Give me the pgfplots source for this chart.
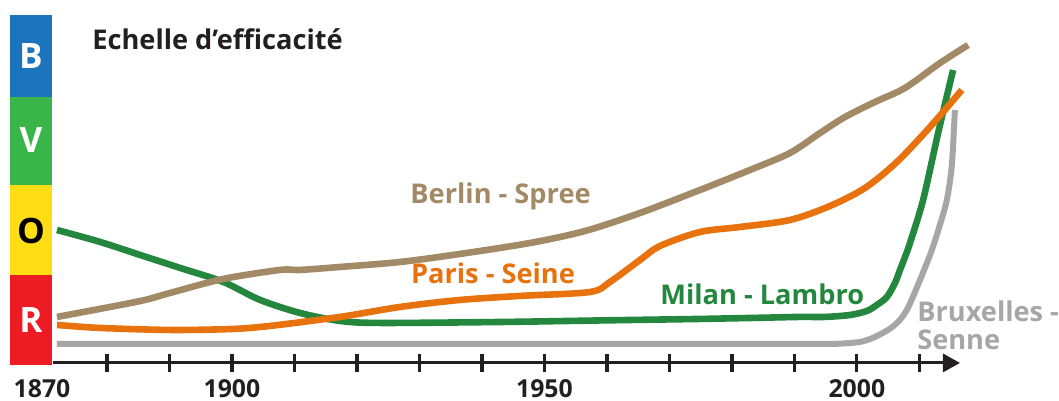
\documentclass[border=0pt]{standalone}
\usepackage{fontspec}
\setmainfont{Open Sans}
\usepackage{pgfplots}
\pgfplotsset{compat=1.18}
\usetikzlibrary{arrows.meta}
\definecolor{cBerlin}{HTML}{A38A66}
\definecolor{cParis}{HTML}{E8730E}
\definecolor{cMilan}{HTML}{23873D}
\definecolor{cBrux}{HTML}{A6A6A6}
\definecolor{bandB}{HTML}{1C75BC}
\definecolor{bandV}{HTML}{39B54A}
\definecolor{bandO}{HTML}{FFDD15}
\definecolor{bandR}{HTML}{ED1C24}
\definecolor{txt}{HTML}{231F20}
\begin{document}
\begin{tikzpicture}
\begin{axis}[width=529.5pt,height=200.5pt,scale only axis,hide axis,
  xmin=1862.88,xmax=2032.32,ymin=-0.4114,ymax=4.1714,clip=false,
  every axis plot/.append style={smooth,tension=0.5,line cap=butt,line join=round}]
\path (rel axis cs:0,0) rectangle (rel axis cs:1,1);
% efficiency scale bands
\fill[bandB] (axis cs:1864.48,3.06) rectangle (axis cs:1871.2,4.0);
\fill[bandV] (axis cs:1864.48,2.057) rectangle (axis cs:1871.2,3.06);
\fill[bandO] (axis cs:1864.48,1.029) rectangle (axis cs:1871.2,2.057);
\fill[bandR] (axis cs:1864.48,0) rectangle (axis cs:1871.2,1.029);
\node[white,font=\bfseries\fontsize{17.5}{18}\selectfont] at (axis cs:1867.84,3.53) {B};
\node[white,font=\bfseries\fontsize{17.5}{18}\selectfont] at (axis cs:1867.84,2.57) {V};
\node[black,font=\bfseries\fontsize{17.5}{18}\selectfont] at (axis cs:1867.84,1.53) {O};
\node[white,font=\bfseries\fontsize{17.5}{18}\selectfont] at (axis cs:1867.84,0.51) {R};
\node[txt,anchor=base west,inner sep=0pt,font=\bfseries\fontsize{13.6}{14}\selectfont] at (axis cs:1877.6,3.611) {Echelle d’efficacité};
% time axis
\draw[txt,line width=1.5pt,-{Triangle[length=8.5pt,width=9pt]}] (axis cs:1871.4,0.023) -- (axis cs:2016.5,0.023);
\pgfplotsinvokeforeach{1880,1890,...,2010}{\draw[txt,line width=1.6pt] (axis cs:#1,-0.08) -- (axis cs:#1,0.126);}
\node[txt,anchor=base,inner sep=0pt,font=\bfseries\fontsize{12.4}{13}\selectfont] at (axis cs:1869.6,-0.377) {1870};
\node[txt,anchor=base,inner sep=0pt,font=\bfseries\fontsize{12.4}{13}\selectfont] at (axis cs:1900,-0.377) {1900};
\node[txt,anchor=base,inner sep=0pt,font=\bfseries\fontsize{12.4}{13}\selectfont] at (axis cs:1950,-0.377) {1950};
\node[txt,anchor=base,inner sep=0pt,font=\bfseries\fontsize{12.4}{13}\selectfont] at (axis cs:2000,-0.377) {2000};
% Bruxelles - Senne
\addplot[cBrux,line width=3pt] coordinates {
(1872.0,0.24) (1910,0.24) (1950,0.24) (1980,0.24) (1990,0.24) (1994.5,0.24) (1997.28,0.243) (2000.48,0.263)
(2002.4,0.305) (2004.16,0.366) (2005.6,0.43) (2006.88,0.514) (2008.0,0.63)
(2008.96,0.777) (2010.56,1.051) (2012.0,1.314) (2013.28,1.6) (2014.4,1.886) (2015.2,2.286) (2015.68,2.914)};
% Milan - Lambro
\addplot[cMilan,line width=3.3pt] coordinates {
(1872.0,1.543) (1878.9,1.406) (1885.3,1.257) (1891.7,1.109) (1898.6,0.949) (1904.5,0.743)
(1910.9,0.594) (1917.3,0.503) (1923.7,0.48) (1942.9,0.491) (1960,0.51) (1974.9,0.526) (1985,0.54) (1990.9,0.549)
(1994.9,0.549) (1998.9,0.571) (2001.6,0.617) (2003.2,0.686) (2004.8,0.777) (2006.1,0.937) (2006.9,1.086)
(2007.7,1.234) (2008.5,1.394) (2010.6,1.886) (2013.0,2.651) (2015.4,3.371)};
% Paris - Seine
\addplot[cParis,line width=3.3pt] coordinates {
(1872.0,0.457) (1878.9,0.423) (1890.1,0.4) (1900.0,0.411) (1906.1,0.446) (1917.3,0.549)
(1926.9,0.663) (1936.5,0.743) (1946.1,0.789) (1957.3,0.834) (1960.5,0.949) (1965.3,1.2)
(1968.5,1.36) (1974.9,1.52) (1981.3,1.577) (1989.3,1.657) (1995.7,1.817) (2001.3,2.023)
(2006.4,2.32) (2011.7,2.72) (2016.8,3.143)};
% Berlin - Spree
\addplot[cBerlin,line width=3.3pt] coordinates {
(1872.0,0.549) (1880.5,0.663) (1886.1,0.743) (1890.1,0.823) (1898.6,0.983) (1907.7,1.086)
(1910.9,1.086) (1917.3,1.12) (1926.9,1.177) (1936.5,1.269) (1947.7,1.394) (1956.5,1.531)
(1965.3,1.737) (1974.9,2.0) (1982.9,2.229) (1989.3,2.423) (1994.1,2.651) (1998.1,2.834)
(2002.9,3.006) (2007.7,3.166) (2013.3,3.451) (2017.8,3.657)};
% series labels
\node[cBerlin,anchor=base west,inner sep=0pt,font=\bfseries\fontsize{13.6}{14}\selectfont] at (axis cs:1928.5,1.851) {Berlin - Spree};
\node[cParis,anchor=base west,inner sep=0pt,font=\bfseries\fontsize{13.6}{14}\selectfont] at (axis cs:1928.6,0.926) {Paris - Seine};
\node[cMilan,anchor=base west,inner sep=0pt,font=\bfseries\fontsize{13.6}{14}\selectfont] at (axis cs:1968.5,0.686) {Milan - Lambro};
\node[cBrux,anchor=base west,inner sep=0pt,font=\bfseries\fontsize{13.6}{14}\selectfont] at (axis cs:2009.6,0.491) {Bruxelles -};
\node[cBrux,anchor=base west,inner sep=0pt,font=\bfseries\fontsize{13.6}{14}\selectfont] at (axis cs:2009.6,0.171) {Senne};
\end{axis}
\end{tikzpicture}
\end{document}
